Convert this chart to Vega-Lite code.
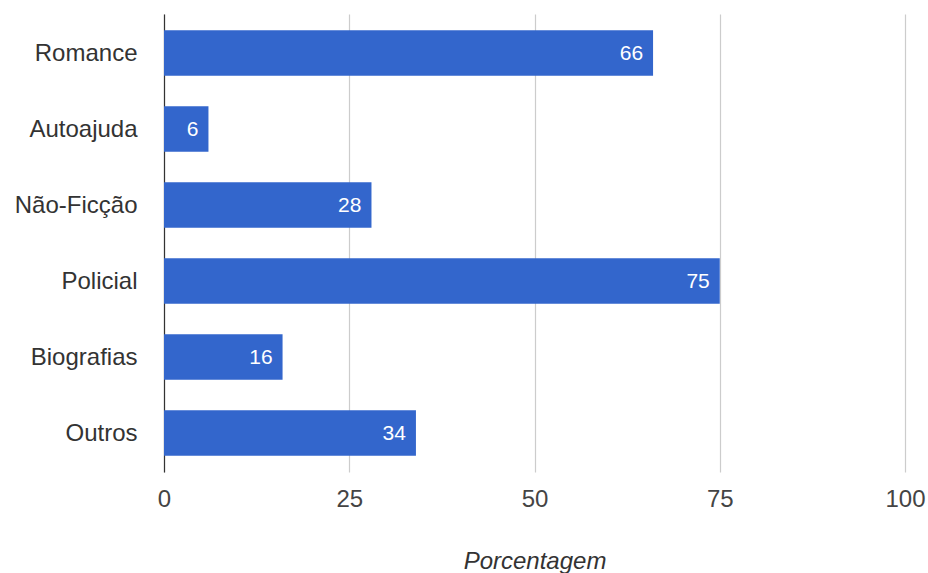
{
  "$schema": "https://vega.github.io/schema/vega-lite/v6.json",
  "width": 741,
  "height": 458,
  "autosize": {"type": "none"},
  "padding": {"left": 164, "top": 14, "right": 23, "bottom": 101},
  "background": "white",
  "config": {
    "view": {"stroke": null},
    "font": "Liberation Sans"
  },
  "data": {
    "values": [
      {"genero": "Romance", "pct": 66},
      {"genero": "Autoajuda", "pct": 6},
      {"genero": "Não-Ficção", "pct": 28},
      {"genero": "Policial", "pct": 75},
      {"genero": "Biografias", "pct": 16},
      {"genero": "Outros", "pct": 34}
    ]
  },
  "encoding": {
    "y": {
      "field": "genero",
      "type": "nominal",
      "sort": null,
      "scale": {"paddingInner": 0.4, "paddingOuter": 0.213},
      "axis": {
        "title": null,
        "ticks": false,
        "labelPadding": 27,
        "labelFontSize": 24,
        "labelColor": "#333333",
        "labelOffset": 1,
        "domainColor": "#333333",
        "domainWidth": 1.2,
        "grid": false
      }
    },
    "x": {
      "field": "pct",
      "type": "quantitative",
      "scale": {"domain": [0, 100], "nice": false},
      "axis": {
        "title": "Porcentagem",
        "titleFontSize": 24,
        "titleFontStyle": "italic",
        "titleFontWeight": "normal",
        "titleColor": "#333333",
        "titlePadding": 38,
        "values": [0, 25, 50, 75, 100],
        "ticks": false,
        "domain": false,
        "labelFlush": false,
        "labelBound": false,
        "labelOverlap": false,
        "labelPadding": 15,
        "labelFontSize": 24,
        "labelColor": "#444444",
        "gridColor": "#cccccc",
        "gridWidth": 1.2
      }
    }
  },
  "layer": [
    {"mark": {"type": "bar", "color": "#3366CC"}},
    {
      "mark": {"type": "text", "align": "right", "dx": -10, "dy": 1, "color": "white", "fontSize": 21, "baseline": "middle"},
      "encoding": {"text": {"field": "pct", "type": "quantitative"}}
    }
  ]
}
